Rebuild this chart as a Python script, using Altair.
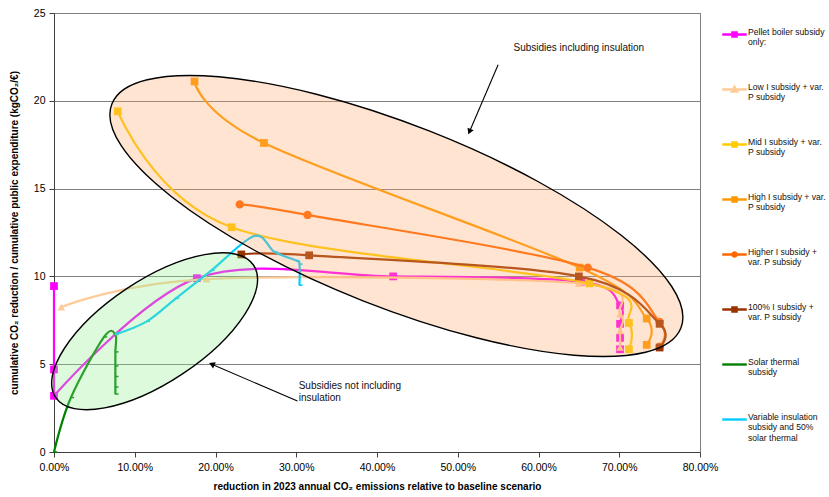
import altair as alt
import pandas as pd

FONT = "Liberation Sans"

# ---------------- data ----------------
SERIES = [
    "Pellet boiler subsidy\nonly:",
    "Low I subsidy + var.\nP subsidy",
    "Mid I subsidy + var.\nP subsidy",
    "High I subsidy + var.\nP subsidy",
    "Higher I subsidy +\nvar. P subsidy",
    "100% I subsidy +\nvar. P subsidy",
    "Solar thermal\nsubsidy",
    "Variable insulation\nsubsidy and 50%\nsolar thermal",
]
COLORS = ["#FF00FF", "#FFCC99", "#FFCC00", "#FF9900", "#FF6600", "#993300", "#008000", "#00CCFF"]
MARKERS = ["square", "triangle", "square", "square", "circle", "square", "dash", "dash"]

# x: reduction in 2023 emissions (%), y: kgCO2 per euro
pellet_x = [0.0, 0.0, 0.0, 17.7, 42.0, 65.3, 70.1, 70.1, 70.1, 70.1]
pellet_y = [9.45, 4.7, 3.2, 9.9, 10.0, 9.7, 8.35, 7.3, 6.5, 5.85]
low_x = [0.9, 18.9, 65.0, 70.1, 70.1, 70.1]
low_y = [8.25, 9.85, 9.6, 7.85, 6.9, 5.95]
mid_x = [7.9, 22.0, 66.3, 71.2, 71.2]
mid_y = [19.4, 12.8, 9.6, 7.35, 5.85]
high_x = [17.4, 26.0, 65.1, 73.4, 73.4]
high_y = [21.1, 17.6, 10.5, 7.6, 6.1]
higher_x = [23.0, 31.4, 66.1, 75.0, 75.0]
higher_y = [14.1, 13.5, 10.5, 7.4, 6.0]
full_x = [23.2, 31.6, 65.0, 75.0, 75.0]
full_y = [11.25, 11.2, 10.0, 7.3, 5.95]
solar_x = [0.0, 2.1, 6.2, 7.6, 7.6, 7.6, 7.6, 7.6, 7.6]
solar_y = [0.0, 3.1, 6.55, 6.7, 5.7, 4.9, 4.3, 3.7, 3.3]
var_x = [7.6, 11.5, 15.1, 19.5, 24.8, 27.3, 30.0, 30.4, 30.4]
var_y = [6.7, 7.44, 8.75, 10.34, 12.3, 11.4, 10.9, 10.7, 9.5]

SERIES_X = [pellet_x, low_x, mid_x, high_x, higher_x, full_x, solar_x, var_x]
SERIES_Y = [pellet_y, low_y, mid_y, high_y, higher_y, full_y, solar_y, var_y]
# number of leading points joined by straight segments (vertical run at 0 %)
STRAIGHT_LEAD = [3, 0, 0, 0, 0, 0, 0, 0]

# ellipses (centre x %, centre y)
ell_cx = [42.4, 12.46]
ell_cy = [13.44, 6.875]

# annotations
note_text = [["Subsidies including insulation"], ["Subsidies not including", "insulation"]]
note_x = [56.9, 30.3]
note_y = [23.0, 3.75]
arrow_x = [55.0, 30.15]
arrow_y = [22.05, 2.9]
arrow_x2 = [51.45, 19.54]
arrow_y2 = [18.24, 5.0]

X_TICKS = [0, 10, 20, 30, 40, 50, 60, 70, 80]
Y_TICKS = [0, 5, 10, 15, 20, 25]

Y_TITLE = "cumulative CO\u2082 reduction / cumulative public expenditure (kgCO\u2082/\u20ac)"
X_TITLE = "reduction in 2023 annual CO\u2082 emissions relative to baseline scenario"

# ---------------- encodings ----------------
def X(field="x"):
    return alt.X(f"{field}:Q", scale=alt.Scale(domain=[0, 80], nice=False, zero=False),
                 axis=alt.Axis(values=X_TICKS, title=X_TITLE, grid=False, labelFlush=False,
                               labelExpr="format(datum.value, '.2f') + '%'",
                               labelPadding=5, titlePadding=9, titleFontWeight="bold"))

def Y(field="y"):
    return alt.Y(f"{field}:Q", scale=alt.Scale(domain=[0, 25], nice=False, zero=False),
                 axis=alt.Axis(values=Y_TICKS, title=Y_TITLE, grid=True, labelFlush=False,
                               labelPadding=4, titlePadding=14, titleFontWeight="bold"))

def ellipse_path(r):
    k = 0.5523
    kr = k * r
    return (f"M-1,0C-1,{-kr:.4f},{-k:.4f},{-r:.4f},0,{-r:.4f}"
            f"C{k:.4f},{-r:.4f},1,{-kr:.4f},1,0"
            f"C1,{kr:.4f},{k:.4f},{r:.4f},0,{r:.4f}"
            f"C{-k:.4f},{r:.4f},-1,{kr:.4f},-1,0Z")

MARK_SHAPE = {
    "square": ("square", 60),
    "triangle": ("triangle-up", 60),
    "circle": ("circle", 70),
    "dash": ("M-0.2,0H1", 40),
}

layers = []
for name, col, mk, xs, ys, lead in zip(SERIES, COLORS, MARKERS, SERIES_X, SERIES_Y, STRAIGHT_LEAD):
    df = pd.DataFrame({"x": xs, "y": ys, "i": list(range(len(xs)))})
    base = alt.Chart(df)
    if lead:
        layers.append(base.transform_filter(f"datum.i < {lead}").mark_line(
            strokeWidth=2.2, color=col).encode(x=X(), y=Y(), order=alt.Order("i:Q")))
        curve = base.transform_filter(f"datum.i >= {lead - 1}")
    else:
        curve = base
    layers.append(curve.mark_line(interpolate="cardinal", strokeWidth=2.2, color=col).encode(
        x=X(), y=Y(), order=alt.Order("i:Q")))
    shp, sz = MARK_SHAPE[mk]
    if mk == "dash":
        layers.append(base.mark_point(shape=shp, size=sz, filled=False, stroke=col,
                                      strokeWidth=1.5, opacity=1).encode(x=X(), y=Y()))
    else:
        layers.append(base.mark_point(shape=shp, size=sz, filled=True, color=col,
                                      opacity=1).encode(x=X(), y=Y()))

# ellipses drawn over the series, semi-transparent
ell_df = [pd.DataFrame({"x": [ell_cx[0]], "y": [ell_cy[0]]}),
          pd.DataFrame({"x": [ell_cx[1]], "y": [ell_cy[1]]})]
layers.append(alt.Chart(ell_df[0]).mark_point(
    shape=ellipse_path(0.298), size=611.6 ** 2, angle=21.5, filled=True,
    fill="#FFA868", fillOpacity=0.3, stroke="black", strokeWidth=1.4, strokeOpacity=1,
    opacity=1).encode(x=X(), y=Y()))
layers.append(alt.Chart(ell_df[1]).mark_point(
    shape=ellipse_path(0.428), size=238.0 ** 2, angle=326.3, filled=True,
    fill="#90EE90", fillOpacity=0.3, stroke="black", strokeWidth=1.4, strokeOpacity=1,
    opacity=1).encode(x=X(), y=Y()))

# arrows
arr = pd.DataFrame({"x": arrow_x, "y": arrow_y, "x2": arrow_x2, "y2": arrow_y2,
                    "ang": [203.4, 293.3]})
layers.append(alt.Chart(arr).mark_rule(color="black", strokeWidth=1.1).encode(
    x=X(), y=Y(), x2="x2:Q", y2="y2:Q"))
layers.append(alt.Chart(arr).mark_point(shape="triangle-up", size=45, filled=True,
                                        color="black", opacity=1).encode(
    x=X("x2"), y=Y("y2"), angle=alt.Angle("ang:Q", scale=None)))

# notes
notes = pd.DataFrame({"x": note_x, "y": note_y, "t": note_text})
layers.append(alt.Chart(notes).mark_text(align="left", baseline="middle", font=FONT,
                                         fontSize=10, lineHeight=12, color="#111").encode(
    x=X(), y=Y(), text="t"))

# legend-only layer
def lp(marker):
    line = "M-1,0H1"
    if marker == "square":
        return line + "M-0.17,-0.17H0.17V0.17H-0.17Z"
    if marker == "triangle":
        return line + "M0,-0.22L0.21,0.16H-0.21Z"
    if marker == "circle":
        r, k = 0.17, 0.094
        return (line + f"M{-r},0C{-r},{-k},{-k},{-r},0,{-r}C{k},{-r},{r},{-k},{r},0"
                f"C{r},{k},{k},{r},0,{r}C{-k},{r},{-r},{k},{-r},0Z")
    return line

legend = alt.Legend(title=None, orient="none", legendX=667, legendY=8,
                    labelExpr="split(datum.label, '\\n')", labelFont=FONT, labelFontSize=8.6,
                    labelColor="#111", labelLimit=200, symbolSize=600, symbolStrokeWidth=2.4,
                    rowPadding=29, labelOffset=0, labelBaseline="alphabetic")
leg_df = pd.DataFrame({"series": SERIES})
layers.append(alt.Chart(leg_df).transform_filter("false").mark_point(filled=True, opacity=1).encode(
    fill=alt.Fill("series:N", scale=alt.Scale(domain=SERIES, range=COLORS), legend=legend),
    stroke=alt.Stroke("series:N", scale=alt.Scale(domain=SERIES, range=COLORS), legend=legend),
    shape=alt.Shape("series:N", scale=alt.Scale(domain=SERIES, range=[lp(m) for m in MARKERS]),
                    legend=legend),
))

chart = alt.layer(*layers).properties(
    width=646, height=439,
    padding={"left": 54, "top": 13, "right": 129, "bottom": 45},
    autosize=alt.AutoSizeParams(type="none"),
).configure_view(stroke="#808080", strokeWidth=1).configure_axis(
    labelFont=FONT, titleFont=FONT, labelFontSize=10.5, titleFontSize=10,
    labelColor="#000", titleColor="#000", domainColor="#404040", tickColor="#404040",
    gridColor="#808080", tickSize=5,
)

chart.save("out.html", embed_options={"renderer": "svg", "actions": False})
